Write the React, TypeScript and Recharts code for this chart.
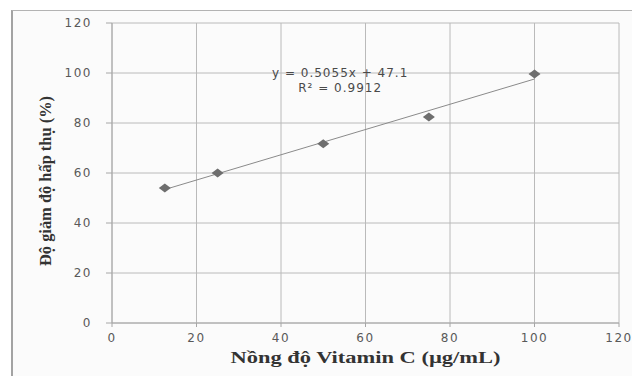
import React from 'react';
import { ScatterChart, Scatter, XAxis, YAxis, CartesianGrid, ReferenceLine, ReferenceDot, Label } from 'recharts';

// Measured points (concentration in µg/mL, absorbance decrease in %)
const concentrations = [12.5, 25, 50, 75, 100];
const inhibition = [54.0, 60.0, 71.7, 82.4, 99.6];

// Axis ticks
const xTicks = [0, 20, 40, 60, 80, 100, 120];
const yTicks = [0, 20, 40, 60, 80, 100, 120];

// Linear trendline end points
const trendX = [12.5, 100];
const trendY = [53.4, 97.6];

// Trendline equation shown on the chart
const equationLines = ['y = 0.5055x + 47.1', 'R² = 0.9912'];

const points = concentrations.map((x, i) => ({ x, y: inhibition[i] }));

const tickStyle = { fill: '#595959', fontSize: 12, fontFamily: 'DejaVu Sans', letterSpacing: 1.5 };
const titleFont = '"Liberation Serif", "Times New Roman", serif';

// Diamond marker, a little wider than tall like the Excel one
const Diamond = (props: any) => {
  const { cx, cy } = props;
  if (cx == null || cy == null) return <g />;
  return (
    <polygon
      points={`${cx - 6},${cy} ${cx},${cy - 4.5} ${cx + 6},${cy} ${cx},${cy + 4.5}`}
      fill="#6e6e6e"
    />
  );
};

const equationLabel = (text: string) => (props: any) => {
  const { viewBox } = props;
  const x = viewBox.x + (viewBox.width || 0) / 2;
  const y = viewBox.y + (viewBox.height || 0) / 2;
  return (
    <text
      x={x}
      y={y}
      textAnchor="middle"
      dominantBaseline="central"
      fill="#4a4a4a"
      fontSize={12}
      fontFamily="DejaVu Sans"
      style={{ letterSpacing: 1 }}
    >
      {text}
    </text>
  );
};

const App: React.FC = () => {
  return (
    <div style={{ position: 'relative', width: 632, height: 368, overflow: 'hidden' }}>
      {/* chart frame */}
      <div
        style={{
          position: 'absolute',
          left: 3,
          top: 2,
          width: 629,
          height: 366,
          boxSizing: 'border-box',
          borderLeft: '2px solid #a3a3a3',
          borderTop: '1px solid #b3b3b3',
          background: '#fbfbfb',
        }}
      />
      <ScatterChart
        width={632}
        height={368}
        margin={{ top: 15, right: 21, left: 44, bottom: 23 }}
        style={{ position: 'absolute', left: 0, top: 0 }}
      >
        <CartesianGrid stroke="#bababa" strokeWidth={1} />
        <XAxis
          type="number"
          dataKey="x"
          domain={[0, 120]}
          ticks={xTicks}
          interval={0}
          height={30}
          tickSize={4}
          tickMargin={6}
          axisLine={{ stroke: '#a6a6a6' }}
          tickLine={{ stroke: '#a6a6a6' }}
          tick={tickStyle}
        >
          <Label
            content={(props: any) => {
              const vb = props.viewBox;
              return (
                <text
                  x={vb.x + vb.width / 2}
                  y={vb.y + 34}
                  textAnchor="middle"
                  dominantBaseline="central"
                  fontFamily={titleFont}
                  fontWeight="bold"
                  fontSize={16}
                  fill="#333333"
                  textLength={270}
                  lengthAdjust="spacingAndGlyphs"
                >
                  Nồng độ Vitamin C (µg/mL)
                </text>
              );
            }}
          />
        </XAxis>
        <YAxis
          type="number"
          dataKey="y"
          domain={[0, 120]}
          ticks={yTicks}
          interval={0}
          width={60}
          tickSize={6}
          tickMargin={14}
          axisLine={{ stroke: '#a6a6a6' }}
          tickLine={{ stroke: '#a6a6a6' }}
          tick={tickStyle}
        >
          <Label
            content={(props: any) => {
              const vb = props.viewBox;
              const cx = vb.x - 7;
              const cy = vb.y + vb.height / 2 + 8;
              return (
                <text
                  x={cx}
                  y={cy}
                  transform={`rotate(-90, ${cx}, ${cy})`}
                  textAnchor="middle"
                  dominantBaseline="central"
                  fontFamily={titleFont}
                  fontWeight="bold"
                  fontSize={16}
                  fill="#333333"
                  textLength={170}
                  lengthAdjust="spacingAndGlyphs"
                >
                  Độ giảm độ hấp thụ (%)
                </text>
              );
            }}
          />
        </YAxis>
        <ReferenceLine
          segment={[
            { x: trendX[0], y: trendY[0] },
            { x: trendX[1], y: trendY[1] },
          ]}
          stroke="#8a8a8a"
          strokeWidth={1}
          ifOverflow="visible"
        />
        <Scatter data={points} shape={Diamond} isAnimationActive={false} />
        <ReferenceDot x={54} y={100} r={0} fill="none" stroke="none" label={equationLabel(equationLines[0])} />
        <ReferenceDot x={54} y={94} r={0} fill="none" stroke="none" label={equationLabel(equationLines[1])} />
      </ScatterChart>
    </div>
  );
};

export default App;
